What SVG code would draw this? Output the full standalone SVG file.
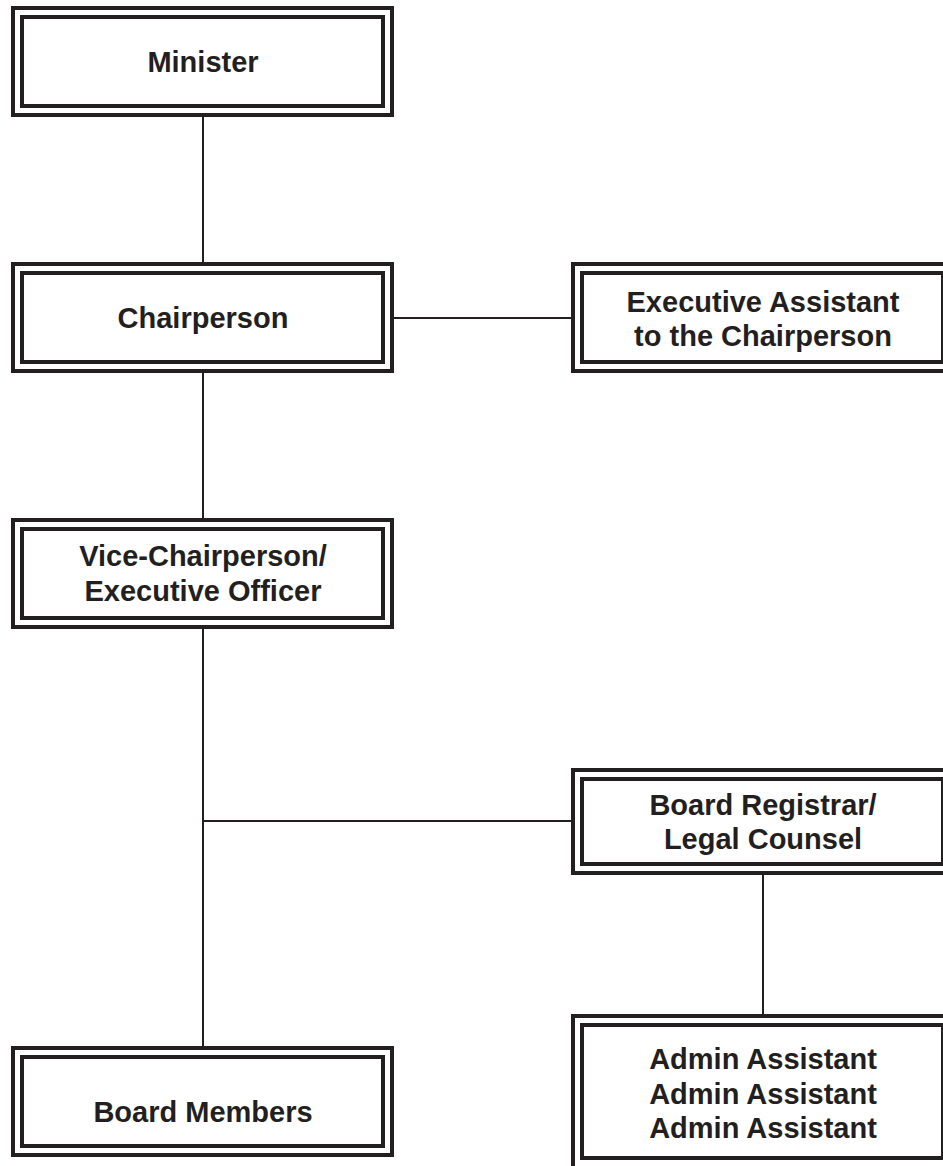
<svg xmlns="http://www.w3.org/2000/svg" width="943" height="1166" viewBox="0 0 943 1166">
<style>
.o{fill:#fff;stroke:#231f20;stroke-width:4}
.i{fill:#fff;stroke:#231f20;stroke-width:4}
.t{font-family:"Liberation Sans",Arial,sans-serif;font-weight:bold;font-size:29px;fill:#231f20;text-anchor:middle}
.c{stroke:#231f20;stroke-width:2;fill:none}
</style>
<rect width="943" height="1166" fill="#fff"/>
<g id="connectors">
<line class="c" x1="203" y1="117" x2="203" y2="262"/>
<line class="c" x1="203" y1="373" x2="203" y2="518"/>
<line class="c" x1="203" y1="629" x2="203" y2="1046"/>
<line class="c" x1="203" y1="821" x2="571" y2="821"/>
<line class="c" x1="394" y1="318" x2="571" y2="318"/>
<line class="c" x1="763" y1="875" x2="763" y2="1014"/>
</g>
<g id="minister">
<rect class="o" x="13" y="8" width="379" height="107"/>
<rect class="i" x="22" y="17" width="361" height="89"/>
<text class="t" x="203" y="72">Minister</text>
</g>
<g id="chairperson">
<rect class="o" x="13" y="264" width="379" height="107"/>
<rect class="i" x="22" y="273" width="361" height="89"/>
<text class="t" x="203" y="328">Chairperson</text>
</g>
<g id="exec-assistant">
<rect class="o" x="573" y="264" width="379" height="107"/>
<rect class="i" x="582" y="273" width="361" height="89"/>
<text class="t" x="763" y="312">Executive Assistant</text>
<text class="t" x="763" y="346">to the Chairperson</text>
</g>
<g id="vice-chairperson">
<rect class="o" x="13" y="520" width="379" height="107"/>
<rect class="i" x="22" y="529" width="361" height="89"/>
<text class="t" x="203" y="566">Vice-Chairperson/</text>
<text class="t" x="203" y="601">Executive Officer</text>
</g>
<g id="board-registrar">
<rect class="o" x="573" y="770" width="379" height="103"/>
<rect class="i" x="582" y="779" width="361" height="85"/>
<text class="t" x="763" y="815">Board Registrar/</text>
<text class="t" x="763" y="849">Legal Counsel</text>
</g>
<g id="admin-assistants">
<rect class="o" x="573" y="1016" width="379" height="152"/>
<rect class="i" x="582" y="1025" width="361" height="133"/>
<text class="t" x="763" y="1069">Admin Assistant</text>
<text class="t" x="763" y="1104">Admin Assistant</text>
<text class="t" x="763" y="1138">Admin Assistant</text>
</g>
<g id="board-members">
<rect class="o" x="13" y="1048" width="379" height="107"/>
<rect class="i" x="22" y="1057" width="361" height="89"/>
<text class="t" x="203" y="1122">Board Members</text>
</g>
</svg>
